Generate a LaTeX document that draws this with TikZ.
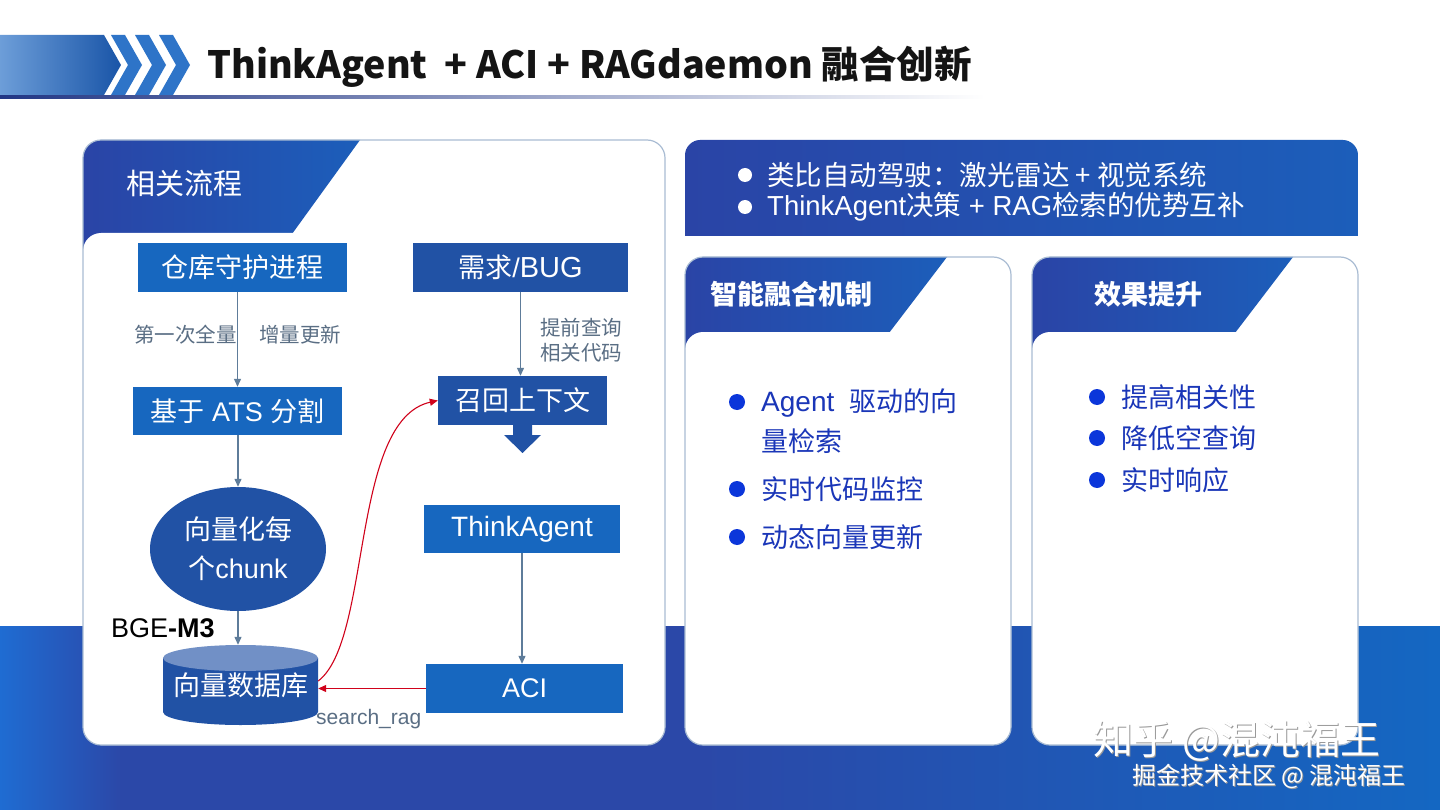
\documentclass[tikz,border=0pt]{standalone}
\usepackage{fontspec}
\setmainfont{Liberation Sans}
\newfontfamily\cjk{Noto Sans CJK SC}
\usetikzlibrary{shapes.geometric,arrows.meta}
\definecolor{nb}{HTML}{1767BF}
\definecolor{dbl}{HTML}{2152A5}
\definecolor{dbtop}{HTML}{7190C6}
\definecolor{garrowc}{HTML}{5E7C9A}
\definecolor{glab}{HTML}{5A6E84}
\definecolor{pborder}{HTML}{A9BCD3}
\definecolor{hdrL}{HTML}{2A44A6}
\definecolor{hdrR}{HTML}{1C5EBA}
\definecolor{bandL}{HTML}{1F6CD2}
\definecolor{bandM}{HTML}{2B48A8}
\definecolor{bandR}{HTML}{1467C2}
\definecolor{bulb}{HTML}{0B36DA}
\definecolor{itemc}{HTML}{1A36B8}
\definecolor{redc}{HTML}{D0021B}
\definecolor{chev}{HTML}{2E74C8}
\newcommand\shtext[1]{\leavevmode\rlap{\kern1.2pt\raisebox{-1.2pt}{\textcolor{black!40}{#1}}}#1}
\begin{document}
\begin{tikzpicture}[x=1pt,y=-1pt,
  fbox/.style={rectangle, inner sep=0pt, minimum height=49pt, text=white, font=\fontsize{27}{30}\selectfont},
  lbox/.style={fbox, fill=nb},
  dbox/.style={fbox, fill=dbl},
  garrow/.style={draw=garrowc, line width=1.2pt, -{Triangle[length=8pt,width=7pt]}},
  rarrow/.style={draw=redc, line width=1.1pt, -{Triangle[length=8pt,width=7pt]}},
  glabel/.style={text=glab, inner sep=0pt, font=\cjk\fontsize{20.5}{25}\selectfont},
  hdr/.style={left color=hdrL, right color=hdrR},
  htitle/.style={text=white, inner sep=0pt, font=\cjk\bfseries\fontsize{27}{30}\selectfont},
  item/.style={text=itemc, inner sep=0pt, anchor=west, font=\fontsize{27}{30}\selectfont},
  pborderst/.style={draw=pborder, line width=1.2pt, rounded corners=18pt}
]
\useasboundingbox (0,0) rectangle (1440,810);
\fill[white] (0,0) rectangle (1440,810);
% bottom band
\shade[left color=bandL, right color=bandM] (0,626) rectangle (121,810);
\fill[bandM] (120,626) rectangle (701,810);
\shade[left color=bandM, right color=bandR] (700,626) rectangle (1440,810);

% title banner
\shade[left color=white!30!chev, right color=hdrR!90!black] (0,35) -- (104,35) -- (121,65) -- (104,95) -- (0,95) -- cycle;
\foreach \i in {0,1,2}{
  \fill[chev] ({111+\i*24},35) -- ++(14,0) -- ++(17,30) -- ++(-17,30) -- ++(-14,0) -- ++(17,-30) -- cycle;
}
\node[anchor=west, inner sep=0pt, text=black!92, font=\cjk\bfseries\fontsize{37.6}{40}\selectfont] (title) at (207,67) {ThinkAgent\ \ + ACI + RAGdaemon 融合创新};
\shade[left color=hdrL!80!black, right color=white] (0,96) rectangle (985,99);

% ---------- left panel ----------
\fill[white, rounded corners=18pt] (83,140) rectangle (665,745);
\shade[hdr] (83,254) -- (83,158) .. controls (83,148) and (91,140) .. (101,140) -- (360,140) -- (292,234) -- (120,234) -- (120,254) -- cycle;
\fill[white, rounded corners=18pt] (83,233) rectangle (665,745);
\draw[pborderst] (83,140) rectangle (665,745);
\node[htitle, font=\cjk\fontsize{29}{32}\selectfont, anchor=west] (h1) at (126,183) {相关流程};

\node[lbox, minimum width=209pt] (repo) at (242.5,267.5) {\cjk 仓库守护进程};
\node[dbox, minimum width=215pt] (req) at (520.5,267.5) {{\cjk 需求}/{\fontsize{29}{30}\selectfont BUG}};
\node[lbox, minimum width=209pt, minimum height=48pt] (ats) at (237.5,411) {{\cjk 基于} ATS {\cjk 分割}};
\node[ellipse, fill=dbl, inner sep=0pt, minimum width=176pt, minimum height=124pt, text=white, align=center, font=\fontsize{27}{39}\selectfont] (vec) at (238,549) {{\cjk 向量化每}\\{\cjk 个}chunk};
\node[dbox, minimum width=169pt] (recall) at (522.5,400.5) {\cjk 召回上下文};
\node[lbox, minimum width=196pt, minimum height=48pt, font=\fontsize{28}{30}\selectfont] (agent) at (522,529) {ThinkAgent};
\node[lbox, minimum width=197pt] (aci) at (524.5,688.5) {ACI};

% cylinder
\fill[dbl] (163,658) -- (163,712) arc[start angle=180, end angle=0, x radius=77.5, y radius=13] -- (318,658) -- cycle;
\fill[dbtop] (240.5,658) ellipse[x radius=77.5, y radius=13];
\node[inner sep=0pt, minimum width=155pt, minimum height=80pt, text=white, font=\cjk\fontsize{27}{30}\selectfont] (db) at (240.5,685) {\raisebox{-6pt}{向量数据库}};

% block arrow under recall
\fill[dbl] (513,425) -- (532,425) -- (532,435) -- (541,435) -- (522.5,453) -- (504,435) -- (513,435) -- cycle;

% connectors
\draw[garrow] (ats.north |- repo.south) -- (ats.north);
\draw[garrow] (ats.south -| vec.north) -- (vec.north);
\draw[garrow] (vec.south) -- (vec.south |- db.north);
\draw[garrow] (req.south) -- (req.south |- recall.north);
\draw[garrow] (agent.south) -- (agent.south |- aci.north);
\draw[rarrow] (aci.west) -- (aci.west -| db.east);
\draw[rarrow] ([yshift=4pt]db.east) .. controls (372,640) and (350,420) .. (recall.west);

\node[glabel, anchor=east] (l1) at (237,335) {第一次全量};
\node[glabel, anchor=west] (l2) at (259,335) {增量更新};
\node[glabel, anchor=west, align=left] (l3) at (540,340) {提前查询\\相关代码};
\node[anchor=west, inner sep=0pt, text=black, font=\fontsize{27}{29}\selectfont] (bge) at (111,628) {BGE\textbf{-M3}};
\node[anchor=west, inner sep=0pt, text=glab, font=\fontsize{21}{23}\selectfont] (srag) at (316,719) {search\_rag};

% ---------- top right banner ----------
\shade[hdr] (685,236) -- (685,155) .. controls (685,147) and (692,140) .. (700,140) -- (1343,140) .. controls (1351,140) and (1358,147) .. (1358,155) -- (1358,236) -- cycle;
\fill[white] (745,175) circle (7pt);
\fill[white] (745,207) circle (7pt);
\node[anchor=west, inner sep=0pt, text=white, font=\cjk\fontsize{27.5}{30}\selectfont] (b1) at (767,175) {类比自动驾驶：激光雷达 + 视觉系统};
\node[anchor=west, inner sep=0pt, text=white, font=\fontsize{27.5}{30}\selectfont] (b2) at (767,207) {ThinkAgent{\cjk 决策} + RAG{\cjk 检索的优势互补}};

% ---------- middle panel ----------
\fill[white, rounded corners=18pt] (685,257) rectangle (1011,745);
\shade[hdr] (685,352) -- (685,275) .. controls (685,265) and (693,257) .. (703,257) -- (947,257) -- (889,333) -- (720,333) -- (720,352) -- cycle;
\fill[white, rounded corners=18pt] (685,332) rectangle (1011,745);
\draw[pborderst] (685,257) rectangle (1011,745);
\node[htitle, anchor=west] (h2) at (710,294) {智能融合机制};
\fill[bulb] (737,402) circle (8pt);
\fill[bulb] (737,489) circle (8pt);
\fill[bulb] (737,537) circle (8pt);
\node[item] (m1) at (761,403) {{\fontsize{28}{30}\selectfont Agent}\ \ {\cjk 驱动的向}};
\node[item] (m1b) at (761,441) {\cjk 量检索};
\node[item] (m2) at (761,489) {\cjk 实时代码监控};
\node[item] (m3) at (761,537) {\cjk 动态向量更新};

% ---------- right panel ----------
\fill[white, rounded corners=18pt] (1032,257) rectangle (1358,745);
\shade[hdr] (1032,352) -- (1032,275) .. controls (1032,265) and (1040,257) .. (1050,257) -- (1293,257) -- (1235,333) -- (1067,333) -- (1067,352) -- cycle;
\fill[white, rounded corners=18pt] (1032,332) rectangle (1358,745);
\draw[pborderst] (1032,257) rectangle (1358,745);
\node[htitle, anchor=west] (h3) at (1094,294) {效果提升};
\fill[bulb] (1097,397) circle (8pt);
\fill[bulb] (1097,438) circle (8pt);
\fill[bulb] (1097,480) circle (8pt);
\node[item] (r1) at (1121,397) {\cjk 提高相关性};
\node[item] (r2) at (1121,438) {\cjk 降低空查询};
\node[item] (r3) at (1121,480) {\cjk 实时响应};

% watermark
\node[anchor=west, inner sep=0pt, text=white, font=\cjk\fontsize{40}{42}\selectfont] (wm1) at (1093,742) {\shtext{知乎 @混沌福王}};
\node[anchor=west, inner sep=0pt, text=white, font=\cjk\fontsize{24}{26}\selectfont] (wm2) at (1132,777) {\shtext{掘金技术社区 @ 混沌福王}};
\end{tikzpicture}
\end{document}
